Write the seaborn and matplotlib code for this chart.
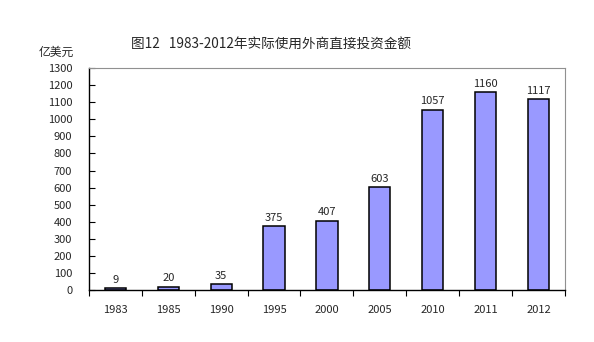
import matplotlib
matplotlib.use("Agg")
import matplotlib.pyplot as plt
import seaborn as sns
import pandas as pd
import numpy as np

years = ["1983", "1985", "1990", "1995", "2000", "2005", "2010", "2011", "2012"]
values = [9, 20, 35, 375, 407, 603, 1057, 1160, 1117]
yticks = list(range(0, 1301, 100))

sns.set_theme(style="white")
plt.rcParams['font.family'] = ['Noto Sans CJK SC', 'DejaVu Sans']

df = pd.DataFrame({"year": years, "value": values})

fig = plt.figure(figsize=(5.94, 3.42), dpi=100)
ax = fig.add_axes([0.1498, 0.152, 0.8012, 0.649])
sns.barplot(data=df, x="year", y="value", ax=ax, color="#9999FF", saturation=1,
            width=0.4, edgecolor="black", linewidth=1.1)

ax.set_ylim(0, 1300)
ax.set_xlim(-0.5, len(years) - 0.5)
ax.set_yticks(yticks)
ax.set_yticklabels([str(t) for t in yticks], fontsize=8)
ax.tick_params(axis='y', direction='in', length=4, width=0.8, color='black', left=True, pad=12)
ax.tick_params(axis='x', which='major', length=0, labelsize=8, pad=11)
ax.set_xticks(np.arange(-0.5, len(years), 1.0), minor=True)
ax.tick_params(axis='x', which='minor', direction='out', length=4, width=0.8, color='black', bottom=True)
ax.set_xlabel("")
ax.set_ylabel("")

for side in ["left", "bottom"]:
    ax.spines[side].set_color("black")
    ax.spines[side].set_linewidth(1.0)
for side in ["top", "right"]:
    ax.spines[side].set_color("#909090")
    ax.spines[side].set_linewidth(0.8)

for i, v in enumerate(values):
    ax.text(i, v + 20, str(v), ha="center", va="bottom", fontsize=8)

fig.text(0.457, 0.873, "图12   1983-2012年实际使用外商直接投资金额", ha="center", va="center",
         fontsize=9.8, fontweight="medium")
fig.text(0.094, 0.848, "亿美元", ha="center", va="center", fontsize=8.5)

fig.savefig("out.png", dpi=100)
